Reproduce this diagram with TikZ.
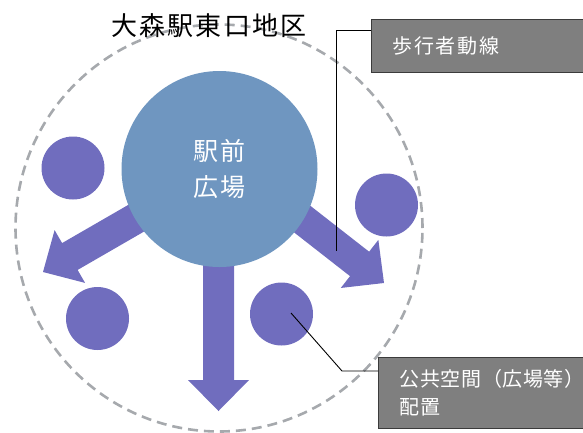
\documentclass[tikz,border=0pt]{standalone}
\usepackage{fontspec}
\setmainfont{Noto Sans CJK JP}
\newfontfamily\jp{Noto Sans CJK JP}[LetterSpace=8]
\newfontfamily\jpn{Noto Sans CJK JP}[LetterSpace=3]
\usetikzlibrary{calc}
\definecolor{purpC}{HTML}{706DBE}
\definecolor{blueC}{HTML}{6F96C0}
\definecolor{dashC}{HTML}{A6A9AD}
\definecolor{boxC}{HTML}{7F7F7F}
\definecolor{boxB}{HTML}{3B3B3B}
\newcommand\fatarrow[4]{%
  \fill[purpC, shift={(#1,#2)}, rotate=#3]
    (0,0) -- (-31,30.5) -- (-31,15.5) -- (-31-#4,15.5) -- (-31-#4,-15.5)
    -- (-31,-15.5) -- (-31,-30.5) -- cycle;}
\begin{document}
\begin{tikzpicture}[x=1pt,y=-1pt,
  spot/.style={circle, fill=purpC, minimum size=63pt, inner sep=0pt},
  callbox/.style={fill=boxC, draw=boxB, line width=1.3pt, text=white,
    align=left, anchor=north west, inner xsep=21pt,
    font=\jp\fontsize{20}{28}\selectfont},
  leader/.style={draw=black, line width=0.9pt}]
\useasboundingbox (0,0) rectangle (583,432);
\draw[dashC, line width=2.6pt, dash pattern=on 10pt off 6pt] (219,228) circle (203.5pt);
\node[font=\jp\fontsize{26}{30}\selectfont] (title) at (209,26) {大森駅東口地区};
\fatarrow{218.5}{411}{-90}{180}
\fatarrow{43}{272}{210}{160}
\fatarrow{384}{283}{-38}{150}
\node[spot] (p1) at (73,168) {};
\node[spot] (p2) at (97.5,318.5) {};
\node[spot] (p3) at (281.5,314) {};
\node[spot] (p4) at (386.5,205) {};
\node[circle, fill=blueC, minimum size=196pt, inner sep=0pt, align=center,
  text=white, font=\jp\fontsize{25}{36}\selectfont] (hub) at (219.5,169) {駅前\\広場};
\node[callbox, minimum height=53pt, text width=177pt] (b1) at (371,19) {歩行者動線};
\coordinate (e1) at (336,251);
\draw[leader] ($(b1.north west)+(0,11)$) -| (e1);
\node[callbox, inner ysep=12pt, text width=190pt, font=\jpn\fontsize{20}{28}\selectfont] (b2) at (378,357) {公共空間（広場等）\\配置};
\coordinate (e2) at (291,313);
\coordinate (k2) at (342,371);
\draw[leader] (e2) -- (k2) -- (b2.west |- k2);
\end{tikzpicture}
\end{document}
